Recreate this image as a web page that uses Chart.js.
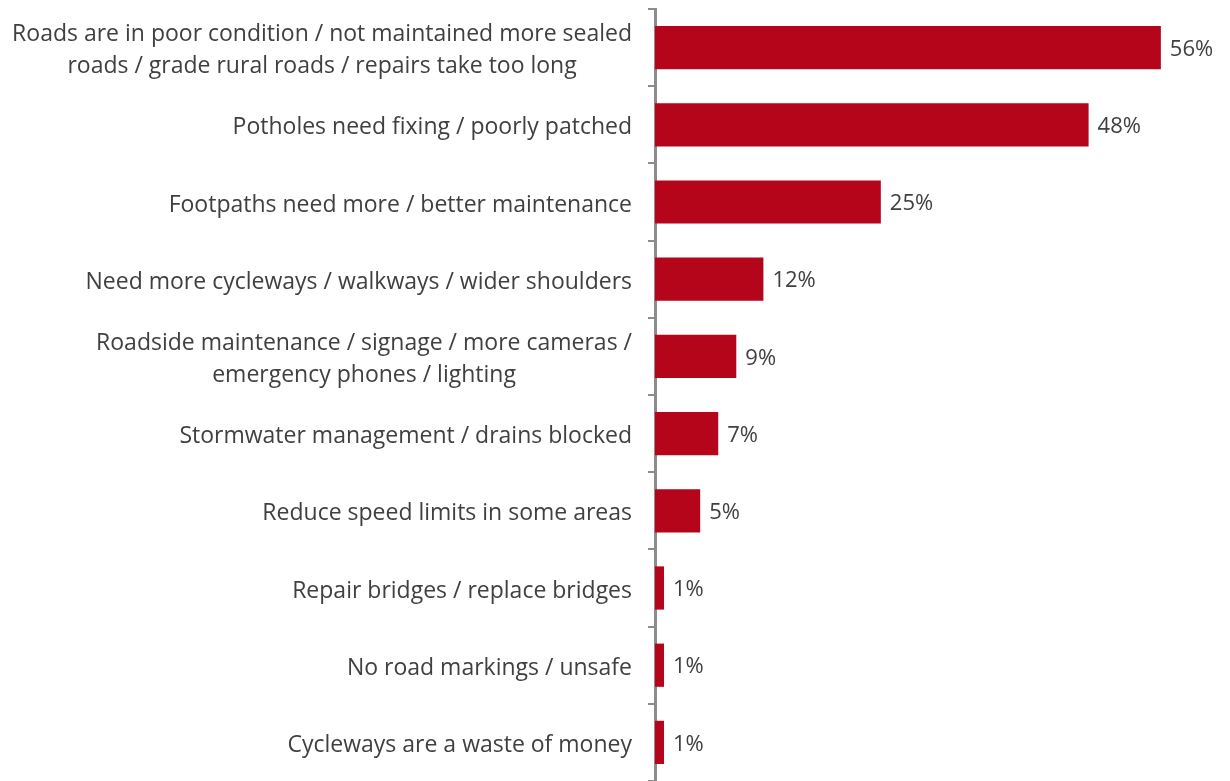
<!DOCTYPE html>
<html>
<head>
<meta charset="utf-8">
<title>Road issues</title>
<script src="https://cdn.jsdelivr.net/npm/chart.js@4.4.1/dist/chart.umd.min.js"></script>
<style>
    html, body { margin: 0; padding: 0; background: #ffffff; }
    #wrap { width: 1230px; height: 781px; position: relative; }
</style>
</head>
<body>
<div id="wrap"><canvas id="grafico"></canvas></div>
<script>
// Categorias (linhas quebradas onde o texto quebra)
const categorias = [
    ['Roads are in poor condition / not maintained more sealed', 'roads / grade rural roads / repairs take too long'],
    'Potholes need fixing / poorly patched',
    'Footpaths need more / better maintenance',
    'Need more cycleways / walkways / wider shoulders',
    ['Roadside maintenance / signage / more cameras /', 'emergency phones / lighting'],
    'Stormwater management / drains blocked',
    'Reduce speed limits in some areas',
    'Repair bridges / replace bridges',
    'No road markings / unsafe',
    'Cycleways are a waste of money'
];
const percentuais = [56, 48, 25, 12, 9, 7, 5, 1, 1, 1];

const corBarra = '#b5051a';
const corTexto = '#404040';
const corEixo = '#8c8c8c';
const fonte = '"Open Sans", sans-serif';

// Rótulos do eixo Y: linhas centralizadas entre si, bloco alinhado à direita
const rotulosEixo = {
    id: 'rotulosEixo',
    afterDraw(chart) {
        const ctx = chart.ctx;
        const y = chart.scales.y;
        const direita = chart.chartArea.left - 23;
        const alturaLinha = 32;
        ctx.save();
        ctx.font = '23px ' + fonte;
        ctx.fillStyle = corTexto;
        ctx.textAlign = 'center';
        ctx.textBaseline = 'middle';
        categorias.forEach((cat, i) => {
            const linhas = Array.isArray(cat) ? cat : [cat];
            const largura = Math.max(...linhas.map(l => ctx.measureText(l).width));
            const cx = direita - largura / 2;
            const cy = y.getPixelForValue(i) + 3;
            const inicio = cy - (linhas.length - 1) * alturaLinha / 2;
            linhas.forEach((l, j) => ctx.fillText(l, cx, inicio + j * alturaLinha));
        });
        ctx.restore();
    }
};

// Valores no fim de cada barra
const rotulosValor = {
    id: 'rotulosValor',
    afterDatasetsDraw(chart) {
        const ctx = chart.ctx;
        const meta = chart.getDatasetMeta(0);
        ctx.save();
        ctx.font = '22px ' + fonte;
        ctx.fillStyle = corTexto;
        ctx.textAlign = 'left';
        ctx.textBaseline = 'middle';
        meta.data.forEach((barra, i) => {
            ctx.fillText(percentuais[i] + '%', barra.x + 9, barra.y + 2);
        });
        ctx.restore();
    }
};

const ctx = document.getElementById('grafico').getContext('2d');
new Chart(ctx, {
    type: 'bar',
    data: {
        labels: categorias,
        datasets: [{
            data: percentuais,
            backgroundColor: corBarra,
            borderWidth: 0,
            categoryPercentage: 1,
            barPercentage: 0.56
        }]
    },
    options: {
        indexAxis: 'y',
        responsive: true,
        maintainAspectRatio: false,
        animation: false,
        layout: { padding: { top: 9, right: 33, bottom: 0, left: 0 } },
        plugins: {
            legend: { display: false },
            tooltip: { enabled: false }
        },
        scales: {
            x: {
                display: false,
                min: 0,
                max: 60
            },
            y: {
                offset: true,
                ticks: { display: false },
                grid: {
                    offset: true,
                    drawOnChartArea: false,
                    drawTicks: true,
                    tickLength: 7,
                    color: corEixo,
                    lineWidth: 2
                },
                border: { display: true, color: corEixo, width: 3 },
                afterFit(scale) { scale.width = 655; }
            }
        }
    },
    plugins: [rotulosEixo, rotulosValor]
});
</script>
</body>
</html>
